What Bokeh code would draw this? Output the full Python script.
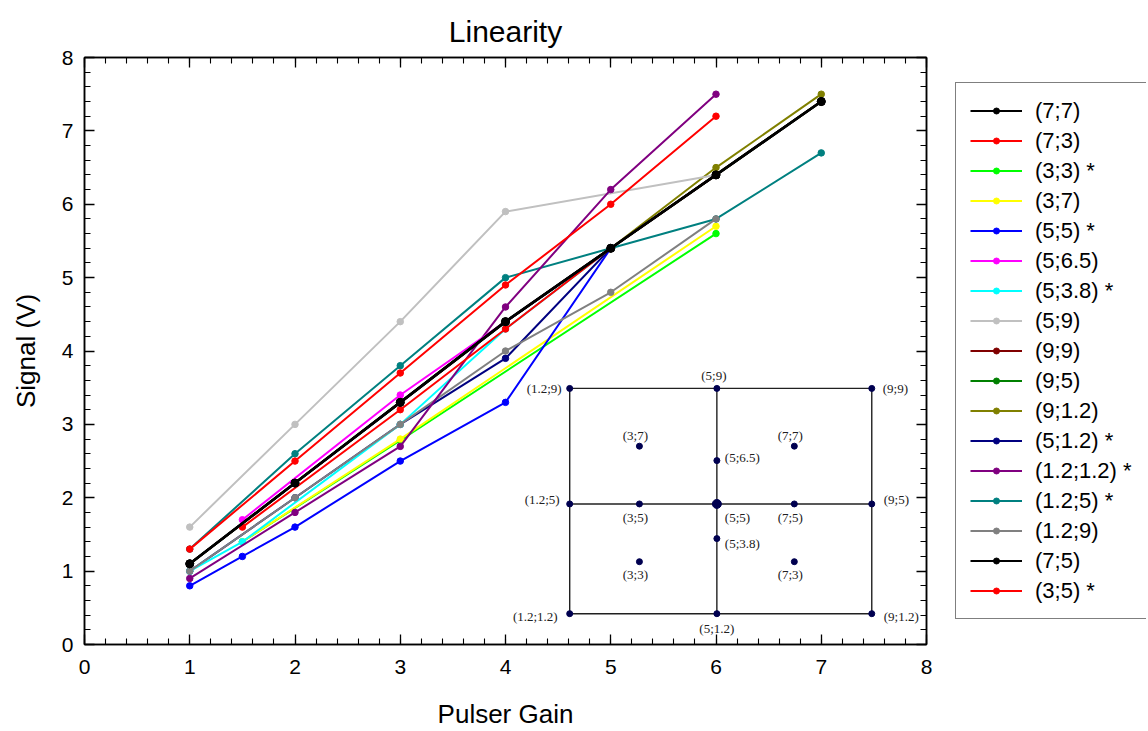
from bokeh.plotting import figure
from bokeh.layouts import row
from bokeh.models import (LinearAxis, SingleIntervalTicker, Legend, LegendItem,
                          ColumnDataSource, Range1d)
from bokeh.core.properties import value
from bokeh.embed import file_html
from bokeh.resources import INLINE

# ---------------- data ----------------
series_labels = ["(7;7)", "(7;3)", "(3;3) *", "(3;7)", "(5;5) *", "(5;6.5)", "(5;3.8) *",
                 "(5;9)", "(9;9)", "(9;5)", "(9;1.2)", "(5;1.2) *", "(1.2;1.2) *",
                 "(1.2;5) *", "(1.2;9)", "(7;5)", "(3;5) *"]

gain_7_7 = [1, 2, 3, 4, 5, 6, 7];        sig_7_7 = [1.1, 2.2, 3.3, 4.4, 5.4, 6.4, 7.4]
gain_7_3 = [1, 2, 3, 4, 5, 6];           sig_7_3 = [1.3, 2.5, 3.7, 4.9, 6.0, 7.2]
gain_3_3 = [1.5, 3, 6];                  sig_3_3 = [1.4, 2.78, 5.6]
gain_3_7 = [1.5, 3, 6];                  sig_3_7 = [1.4, 2.8, 5.7]
gain_5_5 = [1, 1.5, 2, 3, 4, 5];         sig_5_5 = [0.8, 1.2, 1.6, 2.5, 3.3, 5.4]
gain_5_65 = [1.5, 3, 4, 5];              sig_5_65 = [1.7, 3.4, 4.4, 5.4]
gain_5_38 = [1, 1.5, 3, 4, 5];           sig_5_38 = [1.0, 1.4, 3.0, 4.3, 5.4]
gain_5_9 = [1, 2, 3, 4, 6];              sig_5_9 = [1.6, 3.0, 4.4, 5.9, 6.4]
gain_9_9 = [1, 2, 3, 4, 5, 6, 7];        sig_9_9 = [1.1, 2.2, 3.3, 4.4, 5.4, 6.4, 7.4]
gain_9_5 = [1, 2, 3, 4, 5, 6, 7];        sig_9_5 = [1.1, 2.2, 3.3, 4.4, 5.4, 6.4, 7.4]
gain_9_12 = [1, 2, 3, 4, 5, 6, 7];       sig_9_12 = [1.1, 2.2, 3.3, 4.4, 5.4, 6.5, 7.5]
gain_5_12 = [1, 2, 3, 4, 5];             sig_5_12 = [1.0, 2.0, 3.0, 3.9, 5.4]
gain_12_12 = [1, 2, 3, 4, 5, 6];         sig_12_12 = [0.9, 1.8, 2.7, 4.6, 6.2, 7.5]
gain_12_5 = [1, 2, 3, 4, 5, 6, 7];       sig_12_5 = [1.3, 2.6, 3.8, 5.0, 5.4, 5.8, 6.7]
gain_12_9 = [1, 2, 3, 4, 5, 6];          sig_12_9 = [1.0, 2.0, 3.0, 4.0, 4.8, 5.8]
gain_7_5 = [1, 2, 3, 4, 5, 6, 7];        sig_7_5 = [1.1, 2.2, 3.3, 4.4, 5.4, 6.4, 7.4]
gain_3_5 = [1.5, 3, 4, 5, 6];            sig_3_5 = [1.6, 3.2, 4.3, 5.4, 6.4]

series_gain = [gain_7_7, gain_7_3, gain_3_3, gain_3_7, gain_5_5, gain_5_65, gain_5_38,
               gain_5_9, gain_9_9, gain_9_5, gain_9_12, gain_5_12, gain_12_12,
               gain_12_5, gain_12_9, gain_7_5, gain_3_5]
series_sig = [sig_7_7, sig_7_3, sig_3_3, sig_3_7, sig_5_5, sig_5_65, sig_5_38,
              sig_5_9, sig_9_9, sig_9_5, sig_9_12, sig_5_12, sig_12_12,
              sig_12_5, sig_12_9, sig_7_5, sig_3_5]

# sensor positions shown in the inset map
sensor_x = [7, 7, 3, 3, 5, 5, 5, 5, 9, 9, 9, 5, 1.2, 1.2, 1.2, 7, 3]
sensor_y = [7, 3, 3, 7, 5, 6.5, 3.8, 9, 9, 5, 1.2, 1.2, 1.2, 5, 9, 5, 5]

# ---------------- styles ----------------
colors = ["#000000", "#ff0000", "#00ff00", "#ffff00", "#0000ff", "#ff00ff", "#00ffff",
          "#c0c0c0", "#800000", "#008000", "#808000", "#000080", "#800080",
          "#008080", "#808080", "#000000", "#ff0000"]
# drawing order (bottom -> top), by series index
draw_order = [8, 9, 10, 7, 2, 3, 4, 11, 6, 13, 14, 12, 1, 5, 16, 0, 15]

FONT = "Liberation Sans"
H = 731

p = figure(width=936, height=H, output_backend="svg", toolbar_location=None,
           x_range=Range1d(0, 8), y_range=Range1d(0, 8),
           min_border_left=84, min_border_right=10, min_border_top=57, min_border_bottom=86,
           x_axis_label="Pulser Gain", y_axis_label="Signal (V)", title="Linearity")
p.grid.visible = False
p.outline_line_color = "black"
p.outline_line_width = 1.5

p.title.text_font = FONT
p.title.text_font_size = "30px"
p.title.text_font_style = "normal"
p.title.text_color = "black"
p.title.align = "center"
p.title.standoff = 19

p.xaxis.ticker = SingleIntervalTicker(interval=1, num_minor_ticks=5)
p.yaxis.ticker = SingleIntervalTicker(interval=1, num_minor_ticks=5)

def style_axis(ax, labels=True):
    ax.axis_line_width = 1.5
    ax.axis_line_color = "black"
    ax.major_tick_in = 10
    ax.major_tick_out = 0
    ax.minor_tick_in = 6
    ax.minor_tick_out = 0
    ax.major_tick_line_width = 1.3
    ax.minor_tick_line_width = 1.1
    ax.major_tick_line_color = "black"
    ax.minor_tick_line_color = "black"
    ax.major_label_text_font = FONT
    if labels:
        ax.major_label_text_font_size = "21px"
        ax.major_label_text_color = "black"
    else:
        ax.major_label_text_font_size = "0px"
        ax.major_label_text_color = None
        ax.major_label_standoff = 0
    ax.axis_label_text_font = FONT
    ax.axis_label_text_font_size = "26px"
    ax.axis_label_text_font_style = "normal"
    ax.axis_label_text_color = "black"

style_axis(p.xaxis[0])
style_axis(p.yaxis[0])
p.xaxis.major_label_standoff = 15
p.xaxis.axis_label_standoff = 22
p.yaxis.major_label_standoff = 11
p.yaxis.axis_label_standoff = 18

top_ax = LinearAxis(ticker=SingleIntervalTicker(interval=1, num_minor_ticks=5))
right_ax = LinearAxis(ticker=SingleIntervalTicker(interval=1, num_minor_ticks=5))
style_axis(top_ax, labels=False)
style_axis(right_ax, labels=False)
p.add_layout(top_ax, "above")
p.add_layout(right_ax, "right")

# ---------------- series ----------------
for i in draw_order:
    src = ColumnDataSource(dict(x=series_gain[i], y=series_sig[i]))
    is_black = colors[i] == "#000000"
    lw = 2.6 if is_black else 2.0
    ms = 8 if is_black else 6.5
    p.line("x", "y", source=src, line_color=colors[i], line_width=lw)
    p.scatter("x", "y", source=src, marker="circle", size=ms,
              fill_color=colors[i], line_color=colors[i])

# ---------------- inset map ----------------
INSET_X0, INSET_X1 = 4.61, 7.48
INSET_Y0, INSET_Y1 = 0.42, 3.49
s_min_x, s_max_x = min(sensor_x), max(sensor_x)
s_min_y, s_max_y = min(sensor_y), max(sensor_y)
s_mid = 5

def ix(v):
    return INSET_X0 + (v - s_min_x) / (s_max_x - s_min_x) * (INSET_X1 - INSET_X0)

def iy(v):
    return INSET_Y0 + (v - s_min_y) / (s_max_y - s_min_y) * (INSET_Y1 - INSET_Y0)

p.quad(left=[ix(s_min_x)], right=[ix(s_max_x)], bottom=[iy(s_min_y)], top=[iy(s_max_y)],
       fill_color=None, line_color="#202020", line_width=1.4)
p.segment(x0=[ix(s_mid), ix(s_min_x)], y0=[iy(s_min_y), iy(s_mid)],
          x1=[ix(s_mid), ix(s_max_x)], y1=[iy(s_max_y), iy(s_mid)],
          line_color="#202020", line_width=1.4)

inset_labels = ["(%g;%g)" % (a, b) for a, b in zip(sensor_x, sensor_y)]
pt_sizes = [9 if (a == s_mid and b == s_mid) else 6 for a, b in zip(sensor_x, sensor_y)]
p.scatter(x=[ix(a) for a in sensor_x], y=[iy(b) for b in sensor_y], size=pt_sizes,
          marker="circle", fill_color="#000050", line_color="#000050")

label_layout = {
    "(1.2;9)": ("right", "middle", -8, 0),
    "(5;9)": ("center", "bottom", -3, -5),
    "(9;9)": ("left", "middle", 11, 0),
    "(3;7)": ("center", "bottom", -4, -3),
    "(7;7)": ("center", "bottom", -4, -3),
    "(5;6.5)": ("left", "middle", 8, -3),
    "(1.2;5)": ("right", "middle", -10, -4),
    "(3;5)": ("center", "top", -4, 6),
    "(5;5)": ("left", "top", 8, 6),
    "(7;5)": ("center", "top", -4, 6),
    "(9;5)": ("left", "middle", 12, -4),
    "(5;3.8)": ("left", "middle", 8, 5),
    "(3;3)": ("center", "top", -4, 5),
    "(7;3)": ("center", "top", -4, 5),
    "(1.2;1.2)": ("right", "middle", -12, 3),
    "(5;1.2)": ("center", "top", 0, 7),
    "(9;1.2)": ("left", "middle", 12, 3),
}
for align in ["left", "right", "center"]:
    for base in ["top", "middle", "bottom"]:
        sel = [k for k, lab in enumerate(inset_labels)
               if label_layout[lab][0] == align and label_layout[lab][1] == base]
        if not sel:
            continue
        src = ColumnDataSource(dict(
            x=[ix(sensor_x[k]) for k in sel], y=[iy(sensor_y[k]) for k in sel],
            t=[inset_labels[k] for k in sel],
            dx=[label_layout[inset_labels[k]][2] for k in sel],
            dy=[label_layout[inset_labels[k]][3] for k in sel]))
        p.text("x", "y", text="t", source=src, x_offset="dx", y_offset="dy",
               text_align=align, text_baseline=base,
               text_font=value("Liberation Serif"), text_font_size="13px",
               text_color="#202020")

# ---------------- legend (separate panel to the right) ----------------
# the legend panel shows the same series; its ranges keep the data out of view
pl = figure(width=210, height=H, output_backend="svg", toolbar_location=None,
            x_range=Range1d(100, 101), y_range=Range1d(100, 101),
            x_axis_location=None, y_axis_location=None,
            min_border_left=0, min_border_right=0, min_border_top=0, min_border_bottom=0)
pl.grid.visible = False
pl.outline_line_color = None

items = []
for i in range(len(series_labels)):
    src = ColumnDataSource(dict(x=series_gain[i], y=series_sig[i]))
    lr = pl.line("x", "y", source=src, line_color=colors[i], line_width=2.0)
    mr = pl.scatter("x", "y", source=src, marker="circle", size=6,
                    fill_color=colors[i], line_color=colors[i])
    items.append(LegendItem(label=series_labels[i], renderers=[lr, mr]))

legend = Legend(items=items, location=(19, 25))
legend.label_text_font = FONT
legend.label_text_font_size = "22px"
legend.label_text_color = "black"
legend.label_height = 27
legend.glyph_height = 15
legend.glyph_width = 52
legend.spacing = 3
legend.padding = 14
legend.margin = 0
legend.label_standoff = 13
legend.label_width = 90
legend.border_line_color = "black"
legend.border_line_width = 1.2
legend.background_fill_alpha = 1.0
pl.add_layout(legend, "center")

layout = row(p, pl, spacing=0)
open("out.html", "w").write(file_html(layout, INLINE))
